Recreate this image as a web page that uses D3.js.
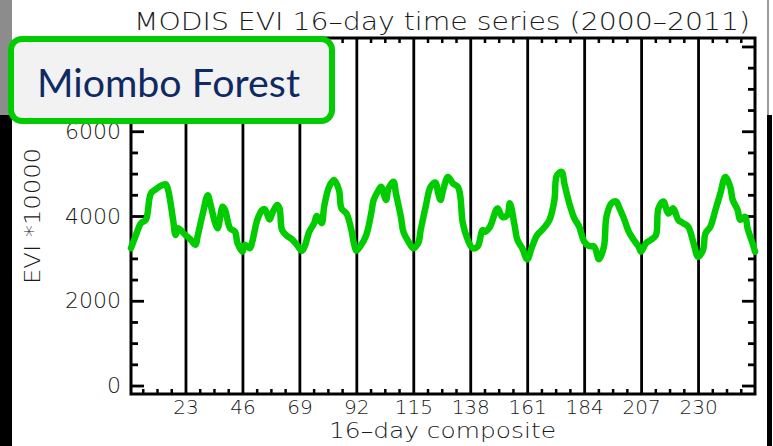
<!DOCTYPE html>
<html>
<head>
<meta charset="utf-8">
<script src="https://cdn.jsdelivr.net/npm/d3@7"></script>
<style>
  body { margin: 0; background: #fff; }
  svg { display: block; }
  .hershey { font-family: "DejaVu Sans", sans-serif; font-weight: 200; fill: #1a1a1a; }
</style>
</head>
<body>
<script>

// composite index (1..253) and EVI*10000
var composite = [
  1, 3, 5, 7, 9, 11, 13, 15, 16, 18,
  19, 20, 21, 23, 25, 27, 28, 30, 32, 33,
  35, 36, 38, 39, 41, 43, 44, 46, 47, 49,
  50, 52, 54, 55, 57, 58, 60, 61, 62, 64,
  66, 68, 70, 71, 73, 75, 76, 78, 79, 81,
  83, 85, 86, 88, 90, 91, 92, 94, 96, 98,
  99, 101, 102, 104, 105, 107, 108, 110, 111, 113,
  115, 117, 118, 120, 122, 124, 125, 126, 127, 129,
  131, 133, 134, 135, 137, 139, 141, 143, 144, 146,
  149, 151, 153, 154, 156, 157, 159, 161, 163, 165,
  167, 170, 172, 173, 175, 176, 178, 180, 182, 184,
  186, 188, 190, 192, 193, 195, 197, 198, 200, 202,
  204, 206, 207, 209, 211, 213, 214, 216, 218, 220,
  222, 224, 226, 228, 230, 232, 233, 235, 237, 239,
  241, 243, 244, 246, 247, 249, 250, 252, 253
];

var evi = [
  3240, 3550, 3830, 3910, 4530, 4630, 4710, 4750, 4610, 3910,
  3550, 3710, 3670, 3550, 3450, 3320, 3550, 4060, 4490, 4300,
  3830, 3710, 4220, 4140, 3710, 3630, 3360, 3160, 3320, 3240,
  3400, 3910, 4140, 4160, 3920, 4060, 4260, 4180, 3670, 3530,
  3450, 3320, 3180, 3260, 3630, 3830, 4000, 3830, 4220, 4690,
  4850, 4610, 4180, 4060, 3670, 3360, 3180, 3320, 3550, 4060,
  4380, 4610, 4690, 4380, 4650, 4810, 4530, 3980, 3630, 3400,
  3240, 3360, 3670, 4220, 4690, 4790, 4550, 4380, 4600, 4920,
  4770, 4690, 4460, 3830, 3440, 3240, 3280, 3670, 3630, 3750,
  4180, 3980, 4020, 4300, 3750, 3440, 3240, 2980, 3280, 3550,
  3670, 3910, 4380, 4960, 5040, 4770, 4300, 3950, 3750, 3400,
  3290, 3280, 2980, 3280, 3980, 4300, 4340, 4220, 3950, 3630,
  3440, 3280, 3160, 3360, 3440, 3550, 4180, 4340, 4060, 4180,
  3910, 3830, 3750, 3400, 3040, 3200, 3590, 3750, 4140, 4530,
  4920, 4690, 4380, 4140, 3910, 3980, 3710, 3360, 3160
];

var xTicks = [23, 46, 69, 92, 115, 138, 161, 184, 207, 230];
var yTicks = [0, 2000, 4000, 6000, 8000];
var yMinor = [500, 1000, 1500, 2500, 3000, 3500, 4500, 5000, 5500, 6500, 7000, 7500];

var title = "MODIS EVI 16\u2013day time series (2000\u20132011)";
var xTitle = "16\u2013day composite";
var yTitle = "EVI *10000";
var boxLabel = "Miombo Forest";


window.onload = function() {

  var W = 773, H = 446;
  var plot = { left: 131, right: 755, top: 38, bottom: 394 };

  var svg = d3.select("body")
              .append("svg")
                .attr("width", W)
                .attr("height", H);

  // slide edges from the screenshot
  svg.append("rect").attr("x", 0).attr("y", 0).attr("width", 12).attr("height", 115).attr("fill", "#8c8c8c");
  svg.append("rect").attr("x", 0).attr("y", 115).attr("width", 12).attr("height", H - 115).attr("fill", "#000");
  svg.append("rect").attr("x", 767).attr("y", 0).attr("width", 2).attr("height", 115).attr("fill", "#9a9a9a");
  svg.append("rect").attr("x", 767).attr("y", 115).attr("width", 5).attr("height", H - 115).attr("fill", "#000");

  var xScale = d3.scaleLinear()
                 .domain([1, 253])
                 .range([plot.left, plot.right]);

  var yScale = d3.scaleLinear()
                 .domain([-200, 8200])
                 .range([plot.bottom, plot.top]);

  var plotH = plot.bottom - plot.top;

  // minor x ticks, 4 per 23-composite year
  var xMinor = [];
  for (var yr = 0; yr < 11; yr++) {
    for (var k = 1; k < 4; k++) xMinor.push(yr * 23 + k * 5.75);
  }

  function ticksOnly(g, w) {
    g.select(".domain").remove();
    g.selectAll("line").attr("stroke", "#000").attr("stroke-width", w);
  }

  // vertical year lines + labels
  var gx = svg.append("g")
              .attr("transform", "translate(0," + plot.bottom + ")")
              .call(d3.axisBottom(xScale)
                      .tickValues(xTicks)
                      .tickSize(-plotH)
                      .tickSizeOuter(0)
                      .tickPadding(6)
                      .tickFormat(d3.format("d")));
  ticksOnly(gx, 2.8);
  gx.selectAll("text").attr("class", "hershey").attr("font-size", 20);

  svg.append("g")
     .attr("transform", "translate(0," + plot.bottom + ")")
     .call(d3.axisBottom(xScale).tickValues(xMinor).tickSize(-5).tickSizeOuter(0).tickFormat(""))
     .call(ticksOnly, 2.5);

  svg.append("g")
     .attr("transform", "translate(0," + plot.top + ")")
     .call(d3.axisTop(xScale).tickValues(xMinor).tickSize(-5).tickSizeOuter(0).tickFormat(""))
     .call(ticksOnly, 2.5);

  // y axis left
  var gy = svg.append("g")
              .attr("transform", "translate(" + plot.left + ",0)")
              .call(d3.axisLeft(yScale)
                      .tickValues(yTicks)
                      .tickSize(-13)
                      .tickSizeOuter(0)
                      .tickPadding(10)
                      .tickFormat(d3.format("d")));
  ticksOnly(gy, 2.8);
  gy.selectAll("text").attr("class", "hershey").attr("font-size", 22);

  svg.append("g")
     .attr("transform", "translate(" + plot.left + ",0)")
     .call(d3.axisLeft(yScale).tickValues(yMinor).tickSize(-7).tickSizeOuter(0).tickFormat(""))
     .call(ticksOnly, 2.8);

  // y axis right (ticks only)
  svg.append("g")
     .attr("transform", "translate(" + plot.right + ",0)")
     .call(d3.axisRight(yScale).tickValues(yTicks).tickSize(-13).tickSizeOuter(0).tickFormat(""))
     .call(ticksOnly, 2.8);

  svg.append("g")
     .attr("transform", "translate(" + plot.right + ",0)")
     .call(d3.axisRight(yScale).tickValues(yMinor).tickSize(-7).tickSizeOuter(0).tickFormat(""))
     .call(ticksOnly, 2.8);

  // frame
  svg.append("rect")
     .attr("x", plot.left)
     .attr("y", plot.top)
     .attr("width", plot.right - plot.left)
     .attr("height", plotH)
     .attr("fill", "none")
     .attr("stroke", "#000")
     .attr("stroke-width", 3);

  // the EVI series
  var pts = composite.map(function(c, i) { return [c, evi[i]]; });

  var line = d3.line()
               .x(function(d) { return xScale(d[0]); })
               .y(function(d) { return yScale(d[1]); })
               .curve(d3.curveCatmullRom.alpha(0.5));

  svg.append("path")
     .datum(pts)
     .attr("d", line)
     .attr("fill", "none")
     .attr("stroke", "#00cc00")
     .attr("stroke-width", 6.5)
     .attr("stroke-linejoin", "round")
     .attr("stroke-linecap", "round");

  // titles
  svg.append("text")
     .attr("class", "hershey")
     .attr("x", 134).attr("y", 30)
     .attr("font-size", 24)
     .attr("textLength", 616)
     .attr("lengthAdjust", "spacingAndGlyphs")
     .text(title);

  svg.append("text")
     .attr("class", "hershey")
     .attr("x", 329).attr("y", 438)
     .attr("font-size", 21)
     .attr("textLength", 227)
     .attr("lengthAdjust", "spacingAndGlyphs")
     .text(xTitle);

  svg.append("text")
     .attr("class", "hershey")
     .attr("transform", "translate(40," + (216 + 68) + ") rotate(-90)")
     .attr("font-size", 22)
     .attr("textLength", 136)
     .attr("lengthAdjust", "spacingAndGlyphs")
     .text(yTitle);

  // label box on top
  svg.append("rect")
     .attr("x", 11).attr("y", 39)
     .attr("width", 321).attr("height", 82)
     .attr("rx", 11).attr("ry", 11)
     .attr("fill", "#f2f2f2")
     .attr("stroke", "#00cc00")
     .attr("stroke-width", 6);

  svg.append("text")
     .attr("x", 37).attr("y", 97)
     .attr("font-family", "Lato, 'Open Sans', sans-serif")
     .attr("font-size", 38)
     .attr("fill", "#0f2a63")
     .attr("textLength", 263)
     .attr("lengthAdjust", "spacingAndGlyphs")
     .text(boxLabel);

};
</script>
</body>
</html>
